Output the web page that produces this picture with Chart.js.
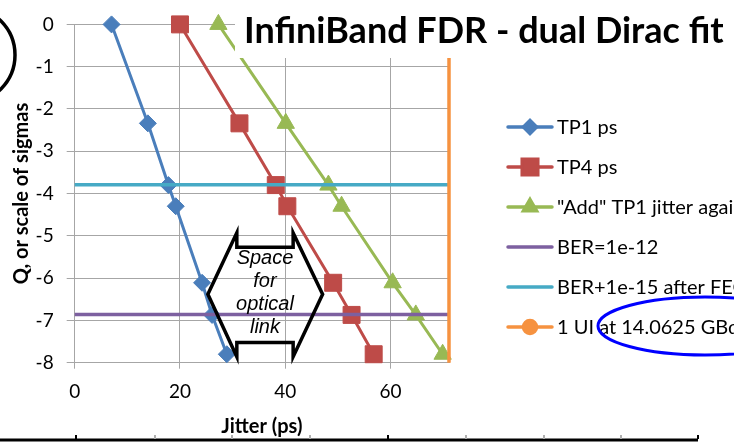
<!DOCTYPE html>
<html>
<head>
<meta charset="utf-8">
<script src="https://cdn.jsdelivr.net/npm/chart.js@4"></script>
<style>
    html, body { margin:0; padding:0; background:#fff; overflow:hidden; }
    #wrap { width:734px; height:442px; position:relative; }
</style>
</head>
<body>
<div id="wrap"><canvas id="JitterChart"></canvas></div>
<script>
// Q (scale of sigmas) levels shared by the three jitter curves
const qLevels = [0, -2.34, -3.8, -4.3, -6.11, -6.87, -7.8];
const tp1Jitter = [7.0, 13.9, 17.8, 19.2, 24.2, 26.1, 28.9];
const tp4Jitter = [20.0, 31.3, 38.2, 40.4, 49.1, 52.6, 56.8];
const addJitter = [27.3, 40.1, 48.2, 50.7, 60.4, 64.8, 69.9];
const berLevel = -6.86;
const berFecLevel = -3.79;
const uiPs = 71.11;
const xTicks = [0, 20, 40, 60];
const yRange = [-8, 0];
const seriesLabels = ['TP1 ps', 'TP4 ps', '"Add" TP1 jitter against TP4', 'BER=1e-12', 'BER+1e-15 after FEC', '1 UI at 14.0625 GBd'];
const seriesColors = ['#4a7ebb', '#be4b48', '#98b954', '#7d60a0', '#46aac5', '#f69240'];

const GRID = '#a6a6a6';
const FONT = 'Lato';

function toPoints(xs, ys){
    return xs.map((x, i) => ({x: x, y: ys[i]}));
}

const legendMarks = [
    {pointStyle:'rectRot', radius:6.5},
    {pointStyle:'rect', radius:11},
    {pointStyle:'triangle', radius:7.5},
    null,
    null,
    {pointStyle:'circle', radius:6.5},
];

const overlayPlugin = {
    id: 'overlay',
    afterDatasetsDraw(chart){
        const ctx = chart.ctx;
        const xs = chart.scales.x;
        const ys = chart.scales.y;
        const px = v => xs.getPixelForValue(v);
        const py = v => ys.getPixelForValue(v);

        ctx.save();

        // title box over the plot
        ctx.fillStyle = '#fff';
        ctx.fillRect(235, 0, 499, 58);
        ctx.fillStyle = '#000';
        ctx.font = 'bold 36px ' + FONT;
        ctx.textBaseline = 'alphabetic';
        ctx.textAlign = 'left';
        ctx.fillText('InfiniBand FDR - dual Dirac fit', 244, 43);

        // "Space for optical link" double arrow
        const L = px(25.3), IL = px(30.8), IR = px(41.5), R = px(47.1);
        const tip = py(-6.38), ot = py(-4.93), it = py(-5.27), ib = py(-7.52), ob = py(-7.86);
        ctx.strokeStyle = '#000';
        ctx.lineWidth = 3.5;
        ctx.lineJoin = 'miter';
        ctx.beginPath();
        ctx.moveTo(L, tip);
        ctx.lineTo(IL, ot);
        ctx.lineTo(IL, it);
        ctx.lineTo(IR, it);
        ctx.lineTo(IR, ot);
        ctx.lineTo(R, tip);
        ctx.lineTo(IR, ob);
        ctx.lineTo(IR, ib);
        ctx.lineTo(IL, ib);
        ctx.lineTo(IL, ob);
        ctx.closePath();
        ctx.stroke();

        ctx.font = 'italic 20px "Liberation Sans"';
        ctx.textAlign = 'center';
        ctx.textBaseline = 'middle';
        const cx = (IL + IR) / 2;
        ['Space', 'for', 'optical', 'link'].forEach((t, i) => {
            ctx.fillText(t, cx, 258 + i * 23);
        });

        // legend
        ctx.textAlign = 'left';
        ctx.font = '20px ' + FONT;
        seriesLabels.forEach((label, i) => {
            const y = 127 + i * 40;
            const col = seriesColors[i];
            ctx.strokeStyle = col;
            ctx.lineWidth = 3.5;
            ctx.lineCap = 'round';
            ctx.beginPath();
            ctx.moveTo(508, y);
            ctx.lineTo(552, y);
            ctx.stroke();
            const mk = legendMarks[i];
            if (mk) {
                ctx.fillStyle = col;
                ctx.strokeStyle = col;
                Chart.helpers.drawPoint(ctx, {pointStyle: mk.pointStyle, radius: mk.radius, rotation: 0, borderWidth: 1}, 530, y);
            }
            ctx.fillStyle = '#000';
            ctx.fillText(label, 557, y + 1);
        });

        // hand drawn ellipse
        ctx.strokeStyle = '#0000ff';
        ctx.lineWidth = 3;
        ctx.beginPath();
        ctx.ellipse(705, 326, 107, 29, 0, 0, Math.PI * 2);
        ctx.stroke();

        // circle fragment top-left
        ctx.strokeStyle = '#000';
        ctx.lineWidth = 3.5;
        ctx.beginPath();
        ctx.arc(-33, 55, 48, 0, Math.PI * 2);
        ctx.stroke();

        // table edge at the bottom
        ctx.fillStyle = '#000';
        ctx.fillRect(0, 438.5, 698, 3);
        [76, 155, 232, 310, 388, 466, 544, 621, 698].forEach((x) => {
            ctx.fillStyle = (x === 76 || x === 388 || x === 698) ? '#000' : '#b0b0b0';
            ctx.fillRect(x - 1, 435, 2, 4);
        });

        ctx.restore();
    }
};

window.onload = function(){
    const ctx = document.getElementById('JitterChart').getContext('2d');
    const curve = (i, xs, style, r) => ({
        label: seriesLabels[i],
        data: toPoints(xs, qLevels),
        borderColor: seriesColors[i],
        backgroundColor: seriesColors[i],
        pointBackgroundColor: seriesColors[i],
        pointBorderColor: seriesColors[i],
        borderWidth: 3,
        pointStyle: style,
        pointRadius: r,
        pointBorderWidth: 1,
        showLine: true,
        order: 6 - i,
    });
    const flat = (i, data) => ({
        label: seriesLabels[i],
        data: data,
        borderColor: seriesColors[i],
        backgroundColor: seriesColors[i],
        borderWidth: 3.5,
        pointRadius: 0,
        showLine: true,
        order: 6 - i,
    });

    window.JChart = new Chart(ctx, {
        type: 'scatter',
        data: {
            datasets: [
                curve(0, tp1Jitter, 'rectRot', 8.5),
                curve(1, tp4Jitter, 'rect', 12),
                curve(2, addJitter, 'triangle', 10),
                flat(3, [{x: 0, y: berLevel}, {x: uiPs, y: berLevel}]),
                flat(4, [{x: 0, y: berFecLevel}, {x: uiPs, y: berFecLevel}]),
                flat(5, [{x: uiPs, y: yRange[1]}, {x: uiPs, y: yRange[0]}]),
            ]
        },
        options: {
            responsive: true,
            maintainAspectRatio: false,
            animation: false,
            clip: false,
            layout: { padding: { top: 12.7, right: 285, bottom: 0, left: 0 } },
            plugins: {
                legend: { display: false },
                tooltip: { enabled: false },
            },
            scales: {
                x: {
                    type: 'linear',
                    min: 0,
                    max: uiPs,
                    afterBuildTicks: (s) => { s.ticks = xTicks.map(v => ({value: v})); },
                    afterFit: (s) => { s.height = 79.3; },
                    grid: { color: GRID, lineWidth: 1, tickLength: 6 },
                    border: { color: GRID, width: 1 },
                    ticks: { font: { family: FONT, size: 19 }, color: '#000', padding: 12, maxRotation: 0 },
                    title: { display: true, text: 'Jitter (ps)', color: '#000',
                        font: { family: FONT, size: 20, weight: 'bold' }, padding: { top: 0, bottom: 3 } },
                },
                y: {
                    min: yRange[0],
                    max: yRange[1],
                    afterFit: (s) => { s.width = 74.7; },
                    grid: { color: GRID, lineWidth: 1, tickLength: 8 },
                    border: { color: GRID, width: 1 },
                    ticks: { stepSize: 1, font: { family: FONT, size: 19 }, color: '#000', padding: 13 },
                    title: { display: true, text: 'Q, or scale of sigmas', color: '#000',
                        font: { family: FONT, size: 20, weight: 'bold' }, padding: { top: 10, bottom: 0 } },
                },
            },
        },
        plugins: [overlayPlugin],
    });
};
</script>
</body>
</html>
